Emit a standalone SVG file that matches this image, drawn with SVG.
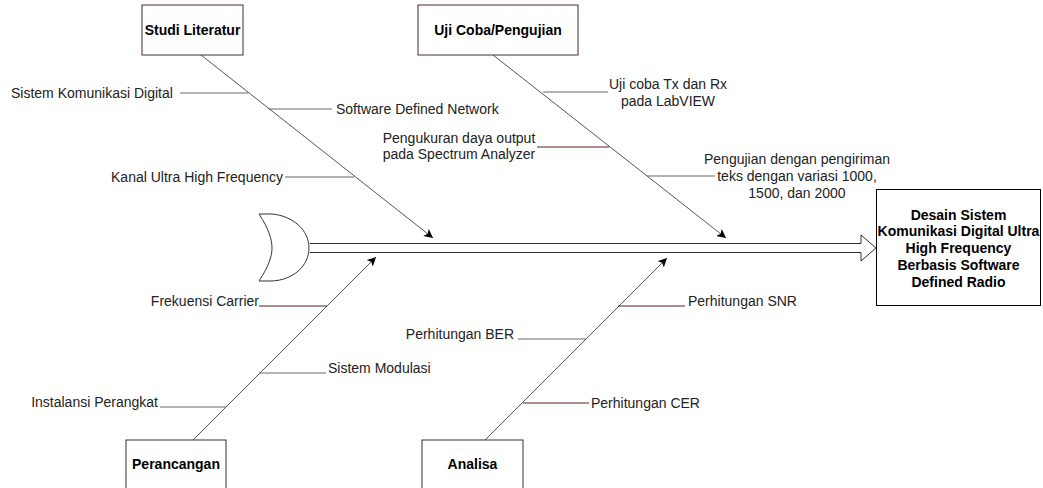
<svg xmlns="http://www.w3.org/2000/svg" width="1043" height="488" viewBox="0 0 1043 488">
<defs>
<style>
text{font-family:"Liberation Sans",Arial,sans-serif;font-size:14px;fill:#222}
.b{font-weight:bold;fill:#000;text-anchor:middle}
.m{text-anchor:middle}
.e{text-anchor:end}
.box{fill:#fff;stroke:#333;stroke-width:1}
.boxr{fill:#fff;stroke:#4a2a2a;stroke-width:1}
.bone{fill:none;stroke:#555;stroke-width:1}
.g{fill:none;stroke:#666;stroke-width:1}
.r{fill:none;stroke:#5c1f1f;stroke-width:1}
</style>
<marker id="ah" viewBox="0 0 10 10" refX="10" refY="5" markerWidth="9" markerHeight="9" markerUnits="userSpaceOnUse" orient="auto">
<path d="M0,0 L10,5 L0,10 L2.5,5 Z" fill="#000"/>
</marker>
</defs>

<g id="connectors">
<path class="bone" d="M201,55 L433,238" marker-end="url(#ah)"/>
<path class="bone" d="M493,55 L726,238" marker-end="url(#ah)"/>
<path class="bone" d="M193,440 L376,257" marker-end="url(#ah)"/>
<path class="bone" d="M485,440 L667,258" marker-end="url(#ah)"/>
<path d="M310,243.5 L861,243.5 L861,235 L876,248 L861,261 L861,252.5 L310,252.5" fill="#fff" stroke="#333" stroke-width="1"/>
<path class="g" d="M180,93 L248,93"/>
<path class="g" d="M268,109 L332,109"/>
<path class="g" d="M285,177 L354,177"/>
<path class="g" d="M543,92 L608,92"/>
<path class="r" d="M537,147 L609,147"/>
<path class="g" d="M647,176 L715,176"/>
<path class="r" d="M259,306 L327,306"/>
<path class="g" d="M259,373 L326,373"/>
<path class="g" d="M160,407 L226,407"/>
<path class="r" d="M618,306 L685,306"/>
<path class="g" d="M518,339 L586,339"/>
<path class="r" d="M523,403 L589,403"/>
</g>

<g id="fish-head">
<path d="M259,214 L272,214 C293,216 309,230 309,248 C309,266 293,280 272,281 L259,281 C269,266 272,256 272,248 C272,240 269,229 259,214 Z" fill="#fff" stroke="#333" stroke-width="1"/>
</g>

<g id="studi-literatur">
<rect class="boxr" x="142" y="5" width="101" height="50"/>
<text class="b" x="192.5" y="35">Studi Literatur</text>
</g>
<g id="uji-coba">
<rect class="boxr" x="418" y="5" width="160" height="50"/>
<text class="b" x="498" y="35">Uji Coba/Pengujian</text>
</g>
<g id="perancangan">
<rect class="box" x="126" y="440" width="100" height="50"/>
<text class="b" x="176" y="469">Perancangan</text>
</g>
<g id="analisa">
<rect class="box" x="422" y="440" width="101" height="50"/>
<text class="b" x="472.5" y="469">Analisa</text>
</g>
<g id="hasil">
<rect x="876.5" y="189.5" width="164" height="116" fill="#fff" stroke="#000" stroke-width="1"/>
<text class="b" x="958.5" y="219.5">Desain Sistem</text>
<text class="b" x="958.5" y="236.3">Komunikasi Digital Ultra</text>
<text class="b" x="958.5" y="253">High Frequency</text>
<text class="b" x="958.5" y="269.7">Berbasis Software</text>
<text class="b" x="958.5" y="286.5">Defined Radio</text>
</g>

<g id="labels">
<text x="11" y="98">Sistem Komunikasi Digital</text>
<text x="336" y="114">Software Defined Network</text>
<text class="e" x="283" y="182">Kanal Ultra High Frequency</text>
<text class="m" x="668" y="89">Uji coba Tx dan Rx</text>
<text class="m" x="668" y="105.7">pada LabVIEW</text>
<text class="m" x="459" y="142.5">Pengukuran daya output</text>
<text class="m" x="459" y="159.3">pada Spectrum Analyzer</text>
<text class="m" x="797" y="164.3">Pengujian dengan pengiriman</text>
<text class="m" x="797" y="181">teks dengan variasi 1000,</text>
<text class="m" x="797" y="197.7">1500, dan 2000</text>
<text class="e" x="259" y="306">Frekuensi Carrier</text>
<text x="328" y="373">Sistem Modulasi</text>
<text class="e" x="158" y="407">Instalansi Perangkat</text>
<text x="688" y="306">Perhitungan SNR</text>
<text class="e" x="514" y="339">Perhitungan BER</text>
<text x="591" y="408">Perhitungan CER</text>
</g>
</svg>
